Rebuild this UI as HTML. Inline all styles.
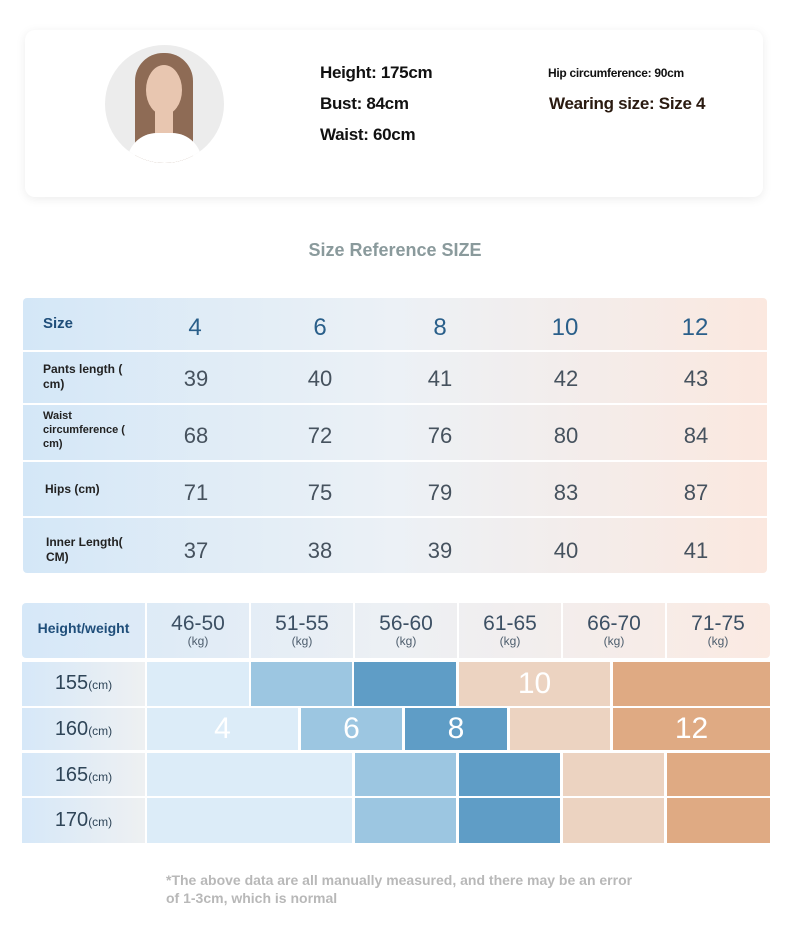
<!DOCTYPE html>
<html><head><meta charset="utf-8"><style>
body{margin:0;width:790px;height:928px;background:#fff;position:relative;font-family:"Liberation Sans",sans-serif;overflow:hidden}
.a{position:absolute}
.card{left:25px;top:30px;width:738px;height:167px;border-radius:10px;background:#fff;box-shadow:0 2px 10px rgba(0,0,0,0.08)}
.b{font-weight:bold;color:#111;letter-spacing:-0.3px}
.t1{left:23px;top:298px;width:744px;height:275px;border-radius:4px;background:linear-gradient(90deg,#d4e7f7,#ecf1f6 50%,#fbe8df)}
.hl{left:23px;width:744px;height:2px;background:#fff}
.num{color:#46525e;font-size:22px;text-align:center;width:80px;margin-left:-40px}
.lab{color:#222;font-weight:bold;font-size:12px;line-height:15px}
.c{position:absolute;display:flex;align-items:center;justify-content:center;color:#fff;font-size:30px}
.kg{color:#3d5064;font-size:21px;text-align:center;line-height:20px}
.kg small{display:block;font-size:12px;line-height:14px;color:#4d5d6d}
.h{color:#2f4558;font-size:20px;left:22px;width:123px;text-align:center}
.h small{font-size:12px}
</style></head><body>
<div class="a card"></div>
<div class="a" style="left:105px;top:45px;width:119px;height:118px;border-radius:50%;background:#ececec;overflow:hidden">
  <div class="a" style="left:30px;top:8px;width:58px;height:110px;border-radius:28px 28px 4px 4px;background:#8e6b55"></div>
  <div class="a" style="left:41px;top:20px;width:36px;height:50px;border-radius:50%;background:#e8c6b0"></div>
  <div class="a" style="left:50px;top:60px;width:18px;height:30px;background:#e8c6b0"></div>
  <div class="a" style="left:22px;top:88px;width:75px;height:40px;border-radius:30px 30px 0 0;background:#fff"></div>
</div>
<div class="a b" style="left:320px;top:63px;font-size:17px">Height: 175cm</div>
<div class="a b" style="left:320px;top:94px;font-size:17px">Bust: 84cm</div>
<div class="a b" style="left:320px;top:125px;font-size:17px">Waist: 60cm</div>
<div class="a b" style="left:548px;top:66px;font-size:12px">Hip circumference: 90cm</div>
<div class="a b" style="left:549px;top:94px;font-size:17px;color:#2a1a10">Wearing size: Size 4</div>
<div class="a" style="left:0;width:790px;top:240px;text-align:center;font-weight:bold;font-size:18px;color:#8a9a9c">Size Reference SIZE</div>

<div class="a t1"></div>
<div class="a hl" style="top:350px"></div>
<div class="a hl" style="top:403px"></div>
<div class="a hl" style="top:460px"></div>
<div class="a hl" style="top:516px"></div>
<div class="a lab" style="left:43px;top:316px;font-size:15px;color:#1f4e7a">Size</div>
<div class="a lab" style="left:43px;top:362px">Pants length (<br>cm)</div>
<div class="a lab" style="left:43px;top:409px;font-size:11px;line-height:14px">Waist<br>circumference (<br>cm)</div>
<div class="a lab" style="left:45px;top:482px">Hips (cm)</div>
<div class="a lab" style="left:46px;top:535px">Inner Length(<br>CM)</div>

<div class="a num" style="left:195px;top:314px;color:#2a5f8a;font-size:24px">4</div>
<div class="a num" style="left:320px;top:314px;color:#2a5f8a;font-size:24px">6</div>
<div class="a num" style="left:440px;top:314px;color:#2a5f8a;font-size:24px">8</div>
<div class="a num" style="left:565px;top:314px;color:#2a5f8a;font-size:24px">10</div>
<div class="a num" style="left:695px;top:314px;color:#2a5f8a;font-size:24px">12</div>

<div class="a num" style="left:196px;top:366px">39</div><div class="a num" style="left:320px;top:366px">40</div><div class="a num" style="left:440px;top:366px">41</div><div class="a num" style="left:566px;top:366px">42</div><div class="a num" style="left:696px;top:366px">43</div>
<div class="a num" style="left:196px;top:423px">68</div><div class="a num" style="left:320px;top:423px">72</div><div class="a num" style="left:440px;top:423px">76</div><div class="a num" style="left:566px;top:423px">80</div><div class="a num" style="left:696px;top:423px">84</div>
<div class="a num" style="left:196px;top:480px">71</div><div class="a num" style="left:320px;top:480px">75</div><div class="a num" style="left:440px;top:480px">79</div><div class="a num" style="left:566px;top:480px">83</div><div class="a num" style="left:696px;top:480px">87</div>
<div class="a num" style="left:196px;top:538px">37</div><div class="a num" style="left:320px;top:538px">38</div><div class="a num" style="left:440px;top:538px">39</div><div class="a num" style="left:566px;top:538px">40</div><div class="a num" style="left:696px;top:538px">41</div>

<div class="a" style="left:22px;top:603px;width:748px;height:55px;border-radius:4px;background:linear-gradient(90deg,#d6e8f8,#edf0f4 50%,#fbeae2)"></div>
<div class="a" style="left:22px;top:662px;width:123px;height:181px;background:linear-gradient(90deg,#d6e8f8,#eef0f2)"></div>
<div class="a" style="left:145px;top:603px;width:2px;height:55px;background:#fff"></div>
<div class="a" style="left:249px;top:603px;width:2px;height:55px;background:#fff"></div>
<div class="a" style="left:353px;top:603px;width:2px;height:55px;background:#fff"></div>
<div class="a" style="left:457px;top:603px;width:2px;height:55px;background:#fff"></div>
<div class="a" style="left:561px;top:603px;width:2px;height:55px;background:#fff"></div>
<div class="a" style="left:665px;top:603px;width:2px;height:55px;background:#fff"></div>
<div class="a" style="left:22px;top:706px;width:123px;height:2px;background:#fff"></div>
<div class="a" style="left:22px;top:750px;width:123px;height:3px;background:#fff"></div>
<div class="a" style="left:22px;top:796px;width:123px;height:2px;background:#fff"></div>
<div class="a" style="left:22px;top:620px;width:123px;text-align:center;font-weight:bold;font-size:14px;color:#1f4e7a">Height/weight</div>
<div class="a kg" style="left:147px;top:614px;width:102px">46-50<small>(kg)</small></div>
<div class="a kg" style="left:251px;top:614px;width:102px">51-55<small>(kg)</small></div>
<div class="a kg" style="left:355px;top:614px;width:102px">56-60<small>(kg)</small></div>
<div class="a kg" style="left:459px;top:614px;width:102px">61-65<small>(kg)</small></div>
<div class="a kg" style="left:563px;top:614px;width:102px">66-70<small>(kg)</small></div>
<div class="a kg" style="left:667px;top:614px;width:102px">71-75<small>(kg)</small></div>
<div class="a h" style="top:672px">155<small>(cm)</small></div>
<div class="a h" style="top:718px">160<small>(cm)</small></div>
<div class="a h" style="top:764px">165<small>(cm)</small></div>
<div class="a h" style="top:809px">170<small>(cm)</small></div>

<div class="c" style="left:147px;top:662px;width:102px;height:44px;background:#dcecf8"></div>
<div class="c" style="left:251px;top:662px;width:101px;height:44px;background:#9cc6e1"></div>
<div class="c" style="left:354px;top:662px;width:102px;height:44px;background:#5f9dc6"></div>
<div class="c" style="left:459px;top:662px;width:151px;height:44px;background:#ecd3c1">10</div>
<div class="c" style="left:613px;top:662px;width:157px;height:44px;background:#dfaa83"></div>

<div class="c" style="left:147px;top:708px;width:151px;height:42px;background:#dcecf8">4</div>
<div class="c" style="left:301px;top:708px;width:101px;height:42px;background:#9cc6e1">6</div>
<div class="c" style="left:405px;top:708px;width:102px;height:42px;background:#5f9dc6">8</div>
<div class="c" style="left:510px;top:708px;width:100px;height:42px;background:#ecd3c1"></div>
<div class="c" style="left:613px;top:708px;width:157px;height:42px;background:#dfaa83">12</div>

<div class="c" style="left:147px;top:753px;width:205px;height:43px;background:#dcecf8"></div>
<div class="c" style="left:355px;top:753px;width:101px;height:43px;background:#9cc6e1"></div>
<div class="c" style="left:459px;top:753px;width:101px;height:43px;background:#5f9dc6"></div>
<div class="c" style="left:563px;top:753px;width:101px;height:43px;background:#ecd3c1"></div>
<div class="c" style="left:667px;top:753px;width:103px;height:43px;background:#dfaa83"></div>

<div class="c" style="left:147px;top:798px;width:205px;height:45px;background:#dcecf8"></div>
<div class="c" style="left:355px;top:798px;width:101px;height:45px;background:#9cc6e1"></div>
<div class="c" style="left:459px;top:798px;width:101px;height:45px;background:#5f9dc6"></div>
<div class="c" style="left:563px;top:798px;width:101px;height:45px;background:#ecd3c1"></div>
<div class="c" style="left:667px;top:798px;width:103px;height:45px;background:#dfaa83"></div>

<div class="a" style="left:166px;top:871px;width:525px;font-size:14px;font-weight:bold;color:#b8b8b8;line-height:18px">*The above data are all manually measured, and there may be an error of&nbsp;1&#8209;3cm, which is normal</div>
</body></html>
